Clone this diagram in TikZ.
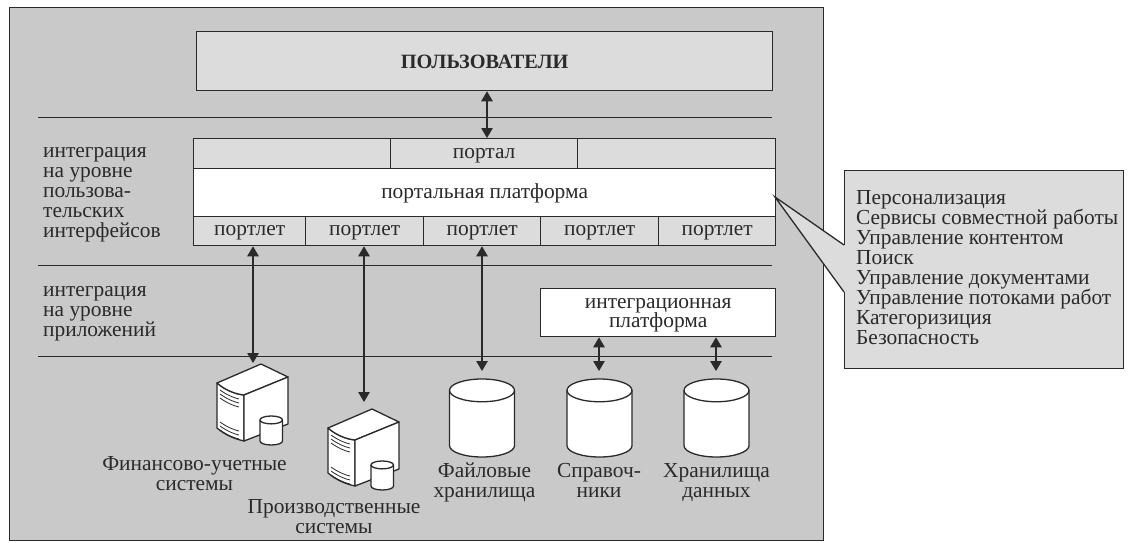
\documentclass[tikz,border=0pt]{standalone}
\usepackage{fontspec}
\setmainfont{Liberation Serif}
\usetikzlibrary{arrows.meta}
\definecolor{bggray}{HTML}{C9C9C9}
\definecolor{boxgray}{HTML}{DCDCDC}
\definecolor{inkc}{HTML}{2A2A2A}
\tikzset{
  ln/.style={draw=inkc,line width=1.3pt},
  sepline/.style={draw=inkc,line width=0.9pt},
  cell/.style={ln,fill=boxgray,anchor=north west,inner sep=0pt,text=inkc,text height=9pt,text depth=0pt,font=\fontsize{21.4}{20}\selectfont},
  whitecell/.style={cell,fill=white},
  lbl/.style={anchor=north west,inner sep=0pt,align=left,text=inkc,font=\fontsize{21.4}{20}\selectfont},
  ctr/.style={anchor=center,inner sep=0pt,align=center,text=inkc,font=\fontsize{21.4}{20}\selectfont},
  biarrow/.style={draw=inkc,line width=1.1pt,{Triangle[length=10pt,width=11.5pt]}-{Triangle[length=10pt,width=11.5pt]}},
  holder/.style={inner sep=0pt,anchor=north west}
}
\newcommand{\cyldraw}[4]{% left, top, width, height
  \pgfmathsetmacro{\rx}{#3/2}
  \pgfmathsetmacro{\ry}{#3*0.175}
  \draw[ln,fill=white] (#1,#2+\ry) -- (#1,#2+#4-\ry) arc[start angle=180,end angle=360,x radius=\rx,y radius=-\ry] -- (#1+#3,#2+\ry) arc[start angle=0,end angle=180,x radius=\rx,y radius=-\ry] -- cycle;
  \draw[ln] (#1,#2+\ry) arc[start angle=180,end angle=360,x radius=\rx,y radius=-\ry];
}
\newcommand{\serverdraw}[2]{%
  \begin{scope}[shift={(#1,#2)}]
    \draw[ln,fill=white,line join=round] (0,19) .. controls (8,26) and (18,30) .. (27,31) -- (27,77) .. controls (18,75) and (8,71) .. (0,64) -- cycle;
    \draw[ln,fill=white,line join=round] (0,19) -- (44,0) -- (71,13) -- (27,31) .. controls (18,30) and (8,26) .. (0,19) -- cycle;
    \draw[ln,fill=white,line join=round] (27,31) -- (71,13) -- (71,60) -- (27,77) -- cycle;
    \draw[draw=inkc,line width=0.8pt] (3,26) .. controls (10,31) and (17,34) .. (22,35);
    \draw[draw=inkc,line width=0.8pt] (3,30) .. controls (10,35) and (17,38) .. (22,39);
    \draw[draw=inkc,line width=0.8pt] (3,34) .. controls (10,39) and (17,42) .. (22,43);
    \draw[draw=inkc,line width=0.8pt] (3,58) .. controls (10,63) and (17,66) .. (22,67);
    \draw[draw=inkc,line width=0.8pt] (3,62) .. controls (10,67) and (17,70) .. (22,71);
    \draw[draw=inkc,line width=0.8pt] (3,66) .. controls (10,71) and (17,74) .. (22,75);
    \cyldraw{43}{52}{22.5}{29}
  \end{scope}}
\begin{document}
\begin{tikzpicture}[x=1pt,y=-1pt]
\useasboundingbox (0,0) rectangle (1130,543);
\node[cell,fill=bggray,minimum width=814pt,minimum height=533pt] (outer) at (9,7) {};
\node[cell,minimum width=576pt,minimum height=59pt,text height=15pt,font=\bfseries\fontsize{20.3}{20}\selectfont] (users) at (196,31) {ПОЛЬЗОВАТЕЛИ};
% separators
\coordinate (s1a) at (38,117); \coordinate (s1b) at (772,117);
\coordinate (s2a) at (38,265); \coordinate (s2b) at (772,265);
\coordinate (s3a) at (38,356); \coordinate (s3b) at (772,356);
\draw[sepline] (s1a) -- (s1b);
\draw[sepline] (s2a) -- (s2b);
\draw[sepline] (s3a) -- (s3b);
% portal rows
\node[cell,minimum width=197pt,minimum height=30pt] (pl) at (193,138) {};
\node[cell,minimum width=187pt,minimum height=30pt] (portal) at (390,138) {портал};
\node[cell,minimum width=198pt,minimum height=30pt] (pr) at (577,138) {};
\node[whitecell,minimum width=582pt,minimum height=48pt,text height=12pt] (platform) at (193,168) {портальная платформа};
\node[cell,minimum width=112pt,minimum height=29pt] (p1) at (193,216) {портлет};
\node[cell,minimum width=118pt,minimum height=29pt] (p2) at (305,216) {портлет};
\node[cell,minimum width=117pt,minimum height=29pt] (p3) at (423,216) {портлет};
\node[cell,minimum width=118pt,minimum height=29pt] (p4) at (540,216) {портлет};
\node[cell,minimum width=117pt,minimum height=29pt] (p5) at (658,216) {портлет};
\node[ln,fill=white,anchor=north west,inner sep=0pt,text=inkc,font=\fontsize{21.4}{19.5}\selectfont,minimum width=235pt,minimum height=48pt,align=center] (ip) at (540,288) {\rule{0pt}{15.5pt}интеграционная\\платформа};
% callout
\node[cell,minimum width=279pt,minimum height=198pt] (callout) at (844,170) {};
\coordinate (tip) at (775,197); \coordinate (ca) at (844,245); \coordinate (cb) at (844,292);
\fill[boxgray] (tip) -- (ca) -- (845,245) -- (845,292) -- (cb) -- cycle;
\draw[ln] (ca) -- (tip) -- (cb);
\node[lbl] (calltext) at (856,190) {Персонализация\\Сервисы совместной работы\\Управление контентом\\Поиск\\Управление документами\\Управление потоками работ\\Категоризиция\\Безопасность};
% left labels
\node[lbl] (l1) at (43,147) {интеграция\\на уровне\\пользова-\\тельских\\интерфейсов};
\node[lbl] (l2) at (43,286) {интеграция\\на уровне\\приложений};
% servers
\node[holder,minimum width=71pt,minimum height=81pt] (srv1) at (217,364) {};
\node[holder,minimum width=71pt,minimum height=81pt] (srv2) at (328,409) {};
\serverdraw{217}{364}
\serverdraw{328}{409}
% cylinders
\node[holder,minimum width=65pt,minimum height=78pt] (c1) at (449.5,379) {};
\node[holder,minimum width=65pt,minimum height=78pt] (c2) at (567,379) {};
\node[holder,minimum width=65pt,minimum height=78pt] (c3) at (684,379) {};
\cyldraw{449.5}{379}{65}{78}
\cyldraw{567}{379}{65}{78}
\cyldraw{684}{379}{65}{78}
% arrows
\coordinate (e1) at (253,363);
\coordinate (e2) at (364,402);
\coordinate (e3) at (482,371);
\coordinate (e4) at (599,371);
\coordinate (e5) at (716,371);
\draw[biarrow] (users.south -| 487,0) -- (portal.north -| 487,0);
\draw[biarrow] (p1.south -| e1) -- (e1);
\draw[biarrow] (p2.south -| e2) -- (e2);
\draw[biarrow] (p3.south -| e3) -- (e3);
\draw[biarrow] (ip.south -| e4) -- (e4);
\draw[biarrow] (ip.south -| e5) -- (e5);
% captions
\node[ctr] (t1) at (194.5,476.5) {\strut Финансово-учетные\\\strut системы};
\node[ctr] (t2) at (334,519) {\strut Производственные\\\strut системы};
\node[ctr] (t3) at (484.5,483.5) {\strut Файловые\\\strut хранилища};
\node[ctr] (t4) at (599,483.5) {\strut Справоч-\\\strut ники};
\node[ctr] (t5) at (716.5,483.5) {\strut Хранилища\\\strut данных};
\end{tikzpicture}
\end{document}
